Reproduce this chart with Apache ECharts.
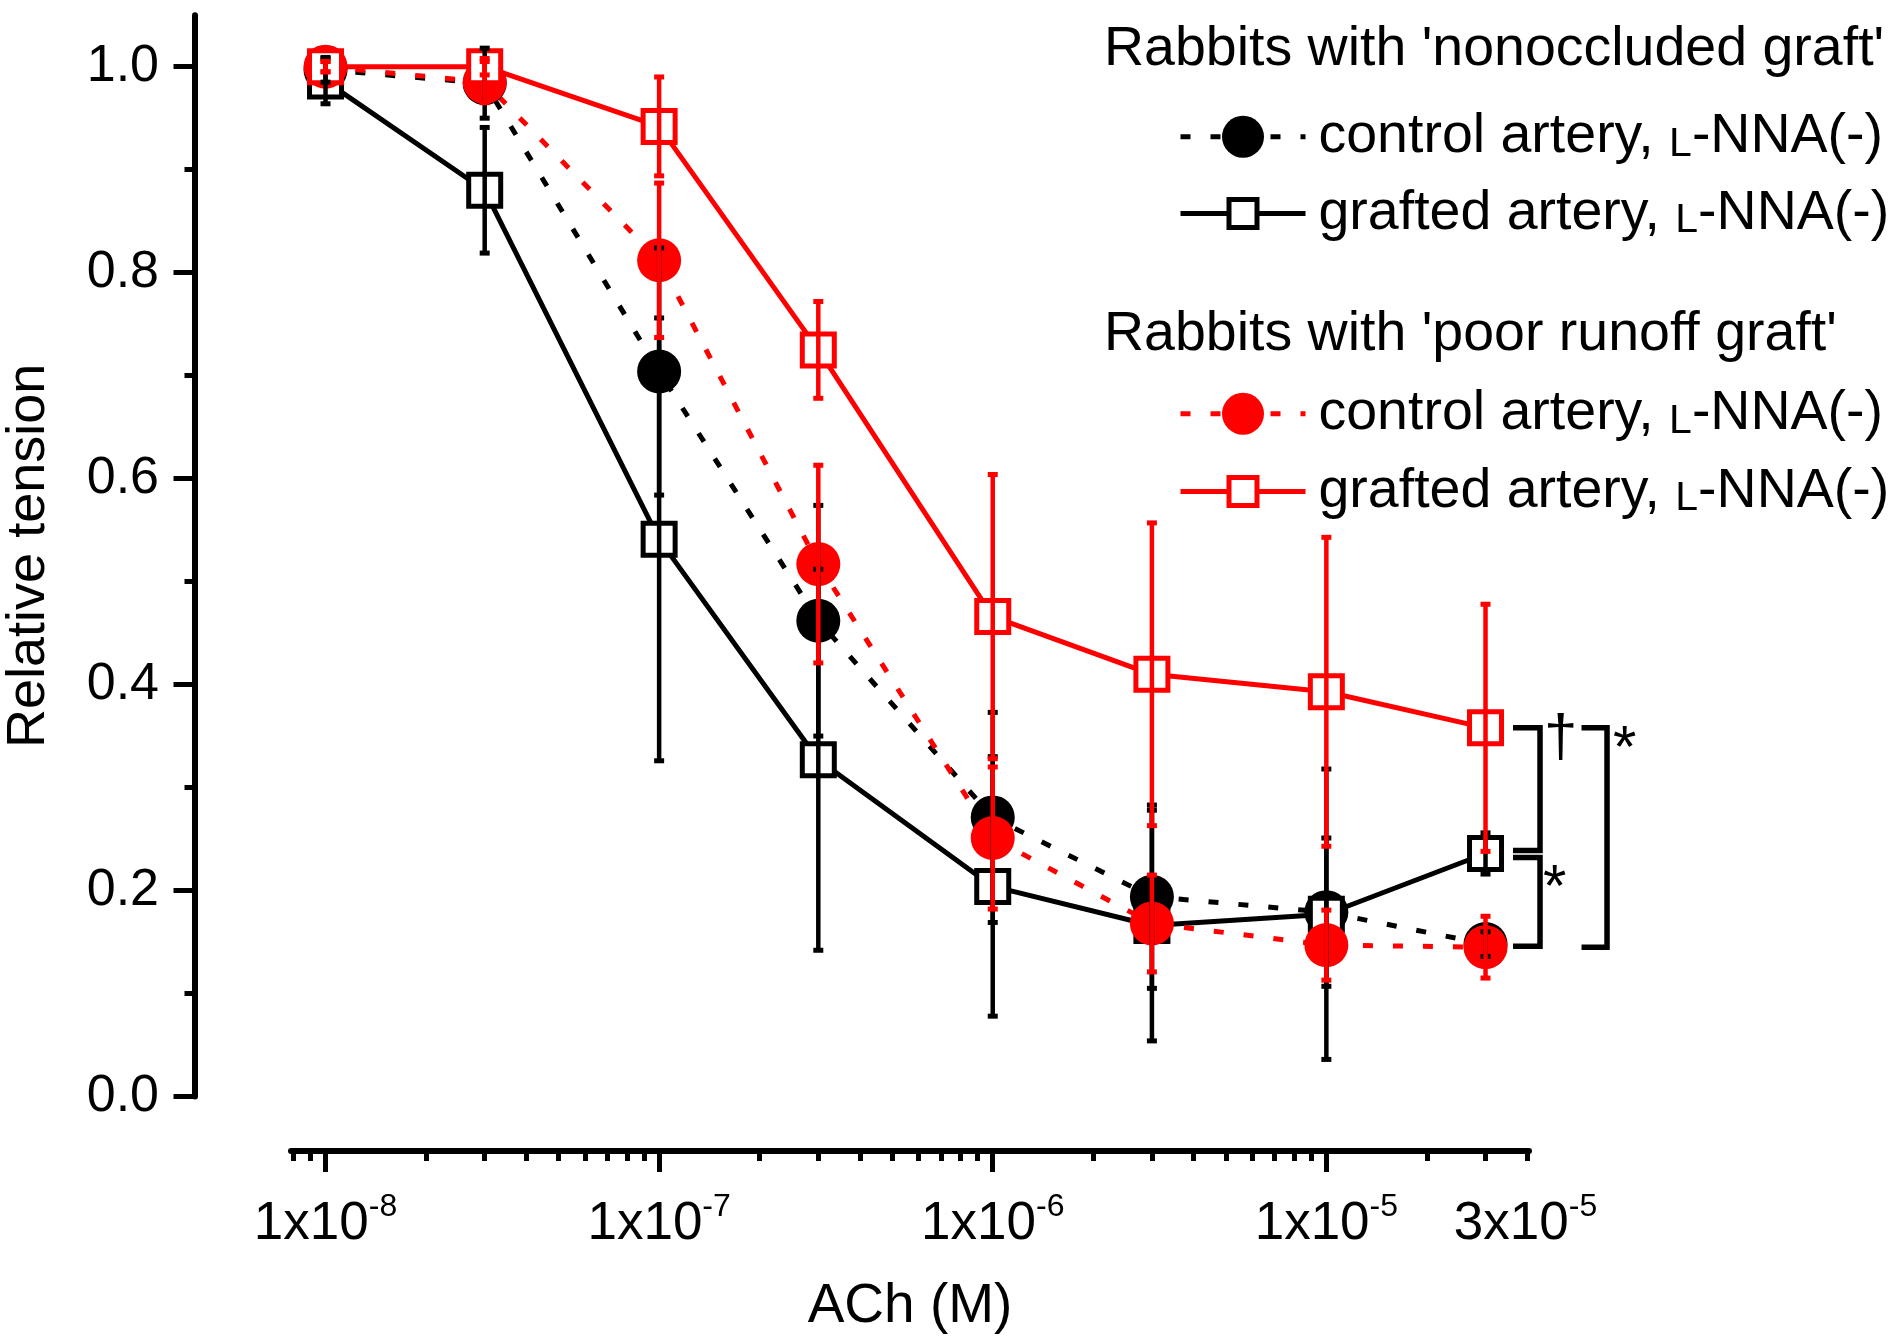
<!DOCTYPE html>
<html>
<head>
<meta charset="utf-8">
<script src="https://cdn.jsdelivr.net/npm/echarts@6/dist/echarts.min.js"></script>
<style>
  html, body { margin: 0; padding: 0; background: #fff; }
  #chart { width: 1901px; height: 1337px; }
</style>
</head>
<body>
<div id="chart"></div>
<script>
// ACh concentration (M)
var conc = [1e-8, 3e-8, 1e-7, 3e-7, 1e-6, 3e-6, 1e-5, 3e-5];

// Rabbits with 'nonoccluded graft'
var nonoccControl    = [0.997, 0.984, 0.704, 0.462, 0.271, 0.194, 0.179, 0.148];
var nonoccControlErr = [0.012, 0.034, 0.120, 0.112, 0.102, 0.089, 0.072, 0.012];
var nonoccGrafted    = [0.986, 0.880, 0.541, 0.327, 0.204, 0.166, 0.177, 0.236];
var nonoccGraftedErr = [0.022, 0.061, 0.215, 0.185, 0.126, 0.112, 0.141, 0.020];

// Rabbits with 'poor runoff graft'
var poorControl    = [1.000, 0.985, 0.812, 0.517, 0.251, 0.168, 0.147, 0.145];
var poorControlErr = [0.005, 0.020, 0.075, 0.096, 0.069, 0.047, 0.034, 0.030];
var poorGrafted    = [1.000, 1.000, 0.942, 0.725, 0.466, 0.410, 0.393, 0.358];
var poorGraftedErr = [0.005, 0.008, 0.048, 0.047, 0.138, 0.147, 0.150, 0.120];

// axis ticks
var xMajorTicks = [1e-8, 1e-7, 1e-6, 1e-5];
var xMinorTicks = [8e-9, 9e-9,
  2e-8, 3e-8, 4e-8, 5e-8, 6e-8, 7e-8, 8e-8, 9e-8,
  2e-7, 3e-7, 4e-7, 5e-7, 6e-7, 7e-7, 8e-7, 9e-7,
  2e-6, 3e-6, 4e-6, 5e-6, 6e-6, 7e-6, 8e-6, 9e-6,
  2e-5, 3e-5, 4e-5];
var xLabelValues = [1e-8, 1e-7, 1e-6, 1e-5, 3e-5];
var xLabelBases  = ['1x10', '1x10', '1x10', '1x10', '3x10'];
var xLabelExps   = ['-8', '-7', '-6', '-5', '-5'];
var yMajorTicks = [0, 0.2, 0.4, 0.6, 0.8, 1.0];
var yMinorTicks = [0.1, 0.3, 0.5, 0.7, 0.9];

// significance brackets at the last dose
var bracketX      = 3e-5;
var bracketTop    = [0.358, 0.232, 0.358];
var bracketBottom = [0.239, 0.146, 0.145];
var bracketMarks  = ['\u2020', '*', '*'];

var FONT = 'Liberation Sans, Arial, Helvetica, sans-serif';
var RED = '#ff0000';
var BLACK = '#000000';

// bracket layout in pixels, measured right of the 3e-5 points
var bracketStart = [27.5, 27.5, 96];
var bracketArm   = [27, 27, 25.5];
var markDx = [4, 3, 6];
var markDy = [-18, 2, -7];
var markSize = [60, 60, 60];

var legendLabels = {
  'nonoccluded control': 'control',
  'nonoccluded grafted': 'grafted',
  'poor runoff control': 'control',
  'poor runoff grafted': 'grafted'
};

function pairs(ys) {
  return conc.map(function (c, i) { return [c, ys[i]]; });
}
function triples(ys, es) {
  return conc.map(function (c, i) { return [c, ys[i], es[i]]; });
}

function lineSeries(name, ys, color, filled) {
  return {
    name: name,
    type: 'line',
    data: pairs(ys),
    symbol: filled ? 'circle' : 'rect',
    symbolSize: filled ? 44 : 32,
    lineStyle: { color: color, width: 5, type: filled ? [10, 20] : 'solid' },
    itemStyle: filled
      ? { color: color, borderWidth: 0 }
      : { color: '#ffffff', borderColor: color, borderWidth: 5 },
    emphasis: { disabled: true },
    z: 2
  };
}

function errorSeries(ys, es, color) {
  return {
    type: 'custom',
    data: triples(ys, es),
    encode: { x: 0, y: 1 },
    z: 3,
    silent: true,
    renderItem: function (params, api) {
      var x = api.value(0), y = api.value(1), e = api.value(2);
      var hi = api.coord([x, y + e]);
      var lo = api.coord([x, y - e]);
      var cap = 5;
      return {
        type: 'group',
        children: [
          { type: 'line', shape: { x1: hi[0], y1: hi[1], x2: lo[0], y2: lo[1] },
            style: { stroke: color, lineWidth: 4.5 } },
          { type: 'line', shape: { x1: hi[0] - cap, y1: hi[1], x2: hi[0] + cap, y2: hi[1] },
            style: { stroke: color, lineWidth: 5 } },
          { type: 'line', shape: { x1: lo[0] - cap, y1: lo[1], x2: lo[0] + cap, y2: lo[1] },
            style: { stroke: color, lineWidth: 5 } }
        ]
      };
    }
  };
}

function legendText(name) {
  return '{t|' + legendLabels[name] + ' artery, }{sc|L}{t|-NNA(-)}';
}

function legendBlock(name, top, itemHeight, border) {
  return {
    data: [name],
    orient: 'vertical',
    left: 1178,
    top: top,
    padding: 0,
    itemWidth: 125,
    itemHeight: itemHeight,
    selectedMode: false,
    itemStyle: { borderWidth: border },
    lineStyle: { width: 5 },
    formatter: legendText,
    textStyle: {
      color: BLACK,
      fontFamily: FONT,
      fontSize: 55.5,
      padding: [0, 0, 0, 8],
      rich: {
        t: { fontFamily: FONT, fontSize: 55.5, lineHeight: 56, verticalAlign: 'bottom', color: BLACK },
        sc: { fontFamily: FONT, fontSize: 41, lineHeight: 51, verticalAlign: 'bottom', color: BLACK }
      }
    }
  };
}

function xLabelFormatter(value) {
  for (var i = 0; i < xLabelValues.length; i++) {
    if (Math.abs(Math.log10(value / xLabelValues[i])) < 1e-6) {
      var pad = i === xLabelValues.length - 1 ? '{pad| }' : '';
      return pad + '{b|' + xLabelBases[i] + '}{s|' + xLabelExps[i] + '}';
    }
  }
  return '';
}

var X_MIN = 7.88e-9, X_MAX = 4.05e-5;
var Y_MIN = 0, Y_MAX = 1.05;

var chart = echarts.init(document.getElementById('chart'));

var option = {
  animation: false,
  backgroundColor: '#ffffff',
  title: [
    { text: "Rabbits with 'nonoccluded graft'", left: 1104, top: 22, padding: 0,
      textStyle: { fontFamily: FONT, fontSize: 55.5, fontWeight: 'normal', color: BLACK } },
    { text: "Rabbits with 'poor runoff graft'", left: 1104, top: 307, padding: 0,
      textStyle: { fontFamily: FONT, fontSize: 55.5, fontWeight: 'normal', color: BLACK } }
  ],
  legend: [
    legendBlock('nonoccluded control', 135 - 26.25, 52.5, 0),
    legendBlock('nonoccluded grafted', 203 - 17.5, 35, 5),
    legendBlock('poor runoff control', 412 - 26.25, 52.5, 0),
    legendBlock('poor runoff grafted', 481 - 17.5, 35, 5)
  ],
  grid: {
    left: 291, right: 372, top: 15.2, bottom: 240.5,
    containLabel: false,
    outerBoundsMode: 'none'
  },
  xAxis: [
    {
      type: 'log', logBase: 10, min: X_MIN, max: X_MAX,
      position: 'bottom', offset: 54.5,
      axisLine: { show: true, onZero: false, lineStyle: { color: BLACK, width: 6 } },
      axisTick: { show: true, length: 21, customValues: xMajorTicks,
        lineStyle: { color: BLACK, width: 5 } },
      minorTick: { show: false },
      splitLine: { show: false },
      axisLabel: {
        customValues: xLabelValues,
        margin: 40,
        formatter: xLabelFormatter,
        color: BLACK,
        rich: {
          b: { fontFamily: FONT, fontSize: 53, lineHeight: 60, verticalAlign: 'bottom', color: BLACK },
          s: { fontFamily: FONT, fontSize: 32, lineHeight: 32, verticalAlign: 'top', color: BLACK },
          pad: { width: 80 }
        }
      },
      name: 'ACh (M)',
      nameLocation: 'middle',
      nameGap: 128,
      nameTextStyle: { fontFamily: FONT, fontSize: 55, color: BLACK }
    },
    {
      type: 'log', logBase: 10, min: X_MIN, max: X_MAX,
      position: 'bottom', offset: 54.5,
      axisLine: { show: false, onZero: false },
      axisTick: { show: true, length: 10, customValues: xMinorTicks,
        lineStyle: { color: BLACK, width: 5 } },
      axisLabel: { show: false },
      splitLine: { show: false }
    }
  ],
  yAxis: [
    {
      type: 'value', min: Y_MIN, max: Y_MAX,
      position: 'left', offset: 96.5,
      axisLine: { show: true, onZero: false, lineStyle: { color: BLACK, width: 6 } },
      axisTick: { show: true, length: 21, customValues: yMajorTicks,
        lineStyle: { color: BLACK, width: 5 } },
      splitLine: { show: false },
      axisLabel: {
        customValues: yMajorTicks,
        margin: 35.5,
        formatter: function (v) { return v.toFixed(1); },
        fontFamily: FONT, fontSize: 52, color: BLACK
      },
      name: 'Relative tension',
      nameLocation: 'middle',
      nameRotate: 90,
      nameGap: 138,
      nameTextStyle: { fontFamily: FONT, fontSize: 54, color: BLACK }
    },
    {
      type: 'value', min: Y_MIN, max: Y_MAX,
      position: 'left', offset: 96.5,
      axisLine: { show: false, onZero: false },
      axisTick: { show: true, length: 10, customValues: yMinorTicks,
        lineStyle: { color: BLACK, width: 5 } },
      axisLabel: { show: false },
      splitLine: { show: false }
    }
  ],
  series: [
    lineSeries('nonoccluded control', nonoccControl, BLACK, true),
    lineSeries('nonoccluded grafted', nonoccGrafted, BLACK, false),
    lineSeries('poor runoff control', poorControl, RED, true),
    lineSeries('poor runoff grafted', poorGrafted, RED, false),
    errorSeries(nonoccControl, nonoccControlErr, BLACK),
    errorSeries(nonoccGrafted, nonoccGraftedErr, BLACK),
    errorSeries(poorControl, poorControlErr, RED),
    errorSeries(poorGrafted, poorGraftedErr, RED),
    {
      type: 'custom',
      data: bracketTop.map(function (t, i) { return [bracketX, t, bracketBottom[i]]; }),
      encode: { x: 0, y: [1, 2] },
      z: 4,
      silent: true,
      clip: false,
      renderItem: function (params, api) {
        var i = params.dataIndex;
        var p0 = api.coord([api.value(0), api.value(1)]);
        var p1 = api.coord([api.value(0), api.value(2)]);
        var xa = p0[0] + bracketStart[i];
        var xv = xa + bracketArm[i];
        return {
          type: 'group',
          children: [
            { type: 'polyline',
              shape: { points: [[xa, p0[1]], [xv, p0[1]], [xv, p1[1]], [xa, p1[1]]] },
              style: { stroke: BLACK, lineWidth: 5.5, fill: null, lineJoin: 'miter' } },
            { type: 'text', x: xv + markDx[i], y: p0[1] + markDy[i],
              style: { text: bracketMarks[i], fontFamily: FONT, fontSize: markSize[i],
                fill: BLACK, align: 'left', verticalAlign: 'top' } }
          ]
        };
      }
    }
  ]
};

chart.setOption(option);
</script>
</body>
</html>
